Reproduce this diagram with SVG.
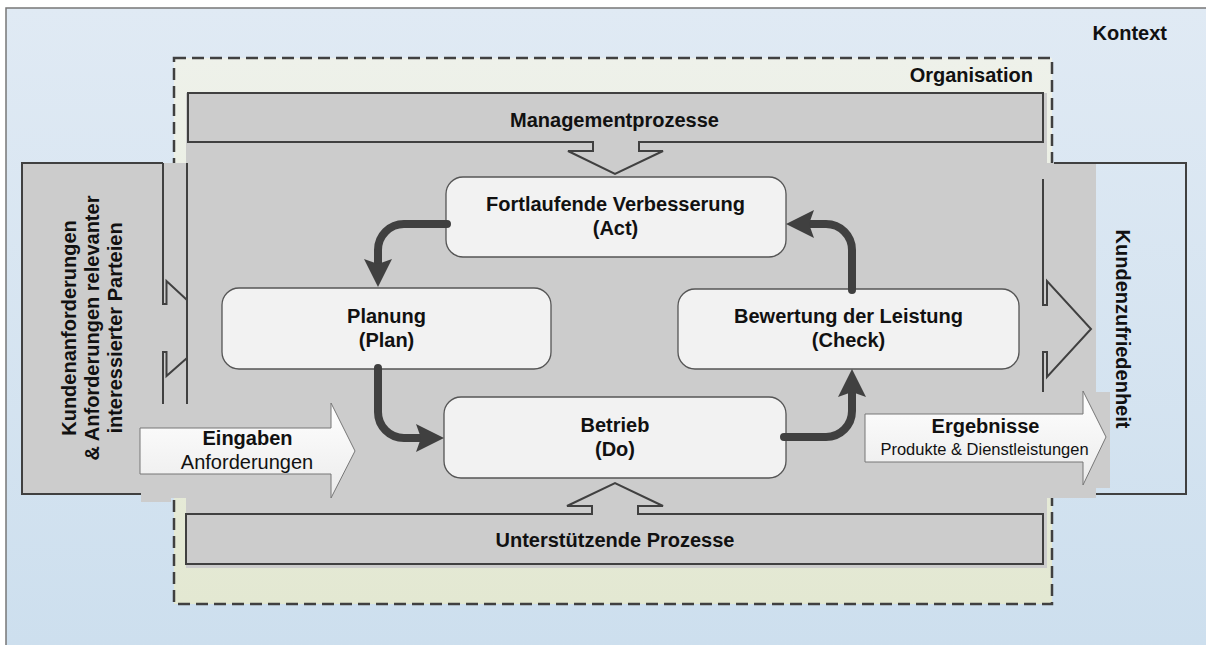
<svg xmlns="http://www.w3.org/2000/svg" width="1206" height="645" viewBox="0 0 1206 645">
<defs>
<linearGradient id="gCtx" gradientUnits="userSpaceOnUse" x1="0" y1="8" x2="0" y2="645"><stop offset="0" stop-color="#e0eaf4"/><stop offset="1" stop-color="#cddfee"/></linearGradient>
<linearGradient id="gOrg" gradientUnits="userSpaceOnUse" x1="0" y1="58" x2="0" y2="604"><stop offset="0" stop-color="#eef1ea"/><stop offset="1" stop-color="#e3e8d2"/></linearGradient>
<linearGradient id="gArrow" x1="0" y1="0" x2="0" y2="1"><stop offset="0" stop-color="#ffffff"/><stop offset="1" stop-color="#ebebeb"/></linearGradient>
<marker id="head" markerUnits="userSpaceOnUse" markerWidth="30" markerHeight="30" refX="5" refY="15" orient="auto"><path d="M0,1 L28,15 L0,29 L5,15 Z" fill="#404040"/></marker>
</defs>
<style>
.t{font-family:"Liberation Sans",Arial,sans-serif;fill:#111;}
.b{font-weight:bold;font-size:20px;}
.r{font-size:20px;}
.s{font-size:16.5px;}
.node{fill:#f2f2f2;stroke:#555;stroke-width:1.3;}
.bar{fill:#cccccc;stroke:#404040;stroke-width:2;}
.ln{fill:none;stroke:#404040;stroke-width:2;}
.flow{fill:none;stroke:#404040;stroke-width:8;stroke-linecap:round;marker-end:url(#head);}
.gray{fill:#cccccc;}
.io{fill:url(#gArrow);stroke:#777;stroke-width:1;}
</style>
<g id="kontext">
<rect x="0" y="0" width="1206" height="645" fill="#ffffff"/>
<rect x="6" y="8" width="1210" height="650" fill="url(#gCtx)" stroke="#777" stroke-width="1.5"/>
<text class="t b" x="1167" y="40" text-anchor="end">Kontext</text>
</g>
<g id="organisation">
<rect x="174" y="58" width="878" height="546" fill="url(#gOrg)" stroke="#404040" stroke-width="2.5" stroke-dasharray="12 6"/>
<text class="t b" x="1033" y="81.5" text-anchor="end">Organisation</text>
</g>
<g id="kundenanforderungen">
<rect class="gray" x="22" y="163" width="141" height="331"/>
</g>
<g id="kundenzufriedenheit">
<rect x="1054" y="163" width="132" height="331" fill="url(#gCtx)"/>
</g>
<g id="prozessbereich">
<rect class="gray" x="186" y="93" width="861" height="475"/>
<rect class="gray" x="163" y="163" width="933" height="335"/>
<rect class="gray" x="1096" y="392" width="14" height="96"/>
<rect class="gray" x="141" y="403" width="30" height="99"/>
</g>
<g id="kundenanforderungen-rahmen">
<path class="ln" d="M163,163 H22 V494 H141"/>
<path class="ln" d="M163,163 V304 H166.5 V281 L187,300"/>
<path class="ln" d="M187,358 L166.5,376 V352 H163 V404"/>
<path class="ln" d="M187,163 V404"/>
<text class="t b" text-anchor="middle" transform="translate(75.5,328) rotate(-90)"><tspan x="0" y="0">Kundenanforderungen</tspan><tspan x="0" y="23">&amp; Anforderungen relevanter</tspan><tspan x="0" y="46">interessierter Parteien</tspan></text>
</g>
<g id="kundenzufriedenheit-rahmen">
<path class="ln" d="M1054,163 H1186 V494 H1096"/>
<path class="ln" d="M1043,179 V305 H1047 V281 L1091,329 L1047,377 V352 H1043 V392"/>
<text class="t b" text-anchor="middle" transform="translate(1115.5,329) rotate(90)">Kundenzufriedenheit</text>
</g>
<g id="managementprozesse">
<path class="bar" d="M188,93 H1043 V142 H639 V151 H663 L615,174 L568,151 H593 V142 H188 Z"/>
<text class="t b" x="614.5" y="126.5" text-anchor="middle">Managementprozesse</text>
</g>
<g id="unterstuetzende-prozesse">
<path class="bar" d="M186,514 H592 V506 H567 L615,483 L663,506 H638 V514 H1043 V564 H186 Z"/>
<text class="t b" x="615" y="547" text-anchor="middle">Unterstützende Prozesse</text>
</g>
<g id="eingaben">
<path class="io" d="M140,428 H331 V403 L355,451 L331,498 V474 H140 Z"/>
<text class="t b" x="247.5" y="445" text-anchor="middle">Eingaben</text>
<text class="t r" x="247" y="469" text-anchor="middle">Anforderungen</text>
</g>
<g id="ergebnisse">
<path class="io" d="M865,414 H1083 V391 L1106,437 L1083,485 V462 H865 Z"/>
<text class="t b" x="985.5" y="433" text-anchor="middle">Ergebnisse</text>
<text class="t s" x="984.5" y="455" text-anchor="middle">Produkte &amp; Dienstleistungen</text>
</g>
<g id="act">
<rect class="node" x="446" y="177" width="340" height="80" rx="17"/>
<text class="t b" x="615.5" y="211" text-anchor="middle">Fortlaufende Verbesserung</text>
<text class="t b" x="615.5" y="235" text-anchor="middle">(Act)</text>
</g>
<g id="plan">
<rect class="node" x="222" y="288" width="329" height="81" rx="17"/>
<text class="t b" x="386.5" y="322.5" text-anchor="middle">Planung</text>
<text class="t b" x="386.5" y="346.5" text-anchor="middle">(Plan)</text>
</g>
<g id="check">
<rect class="node" x="678" y="289" width="341" height="80" rx="17"/>
<text class="t b" x="848.5" y="323" text-anchor="middle">Bewertung der Leistung</text>
<text class="t b" x="848.5" y="346.5" text-anchor="middle">(Check)</text>
</g>
<g id="do">
<rect class="node" x="444" y="397" width="342" height="81" rx="17"/>
<text class="t b" x="615" y="431.5" text-anchor="middle">Betrieb</text>
<text class="t b" x="615" y="455.5" text-anchor="middle">(Do)</text>
</g>
<g id="connectors">
<path class="flow" d="M447,224 H404 A26,26 0 0 0 378,250 V264"/>
<path class="flow" d="M378,368 V412 A26,26 0 0 0 404,438 H421"/>
<path class="flow" d="M784,437 H826 A26,26 0 0 0 852,411 V392"/>
<path class="flow" d="M852,290 V250 A26,26 0 0 0 826,224 H809"/>
</g>
</svg>
